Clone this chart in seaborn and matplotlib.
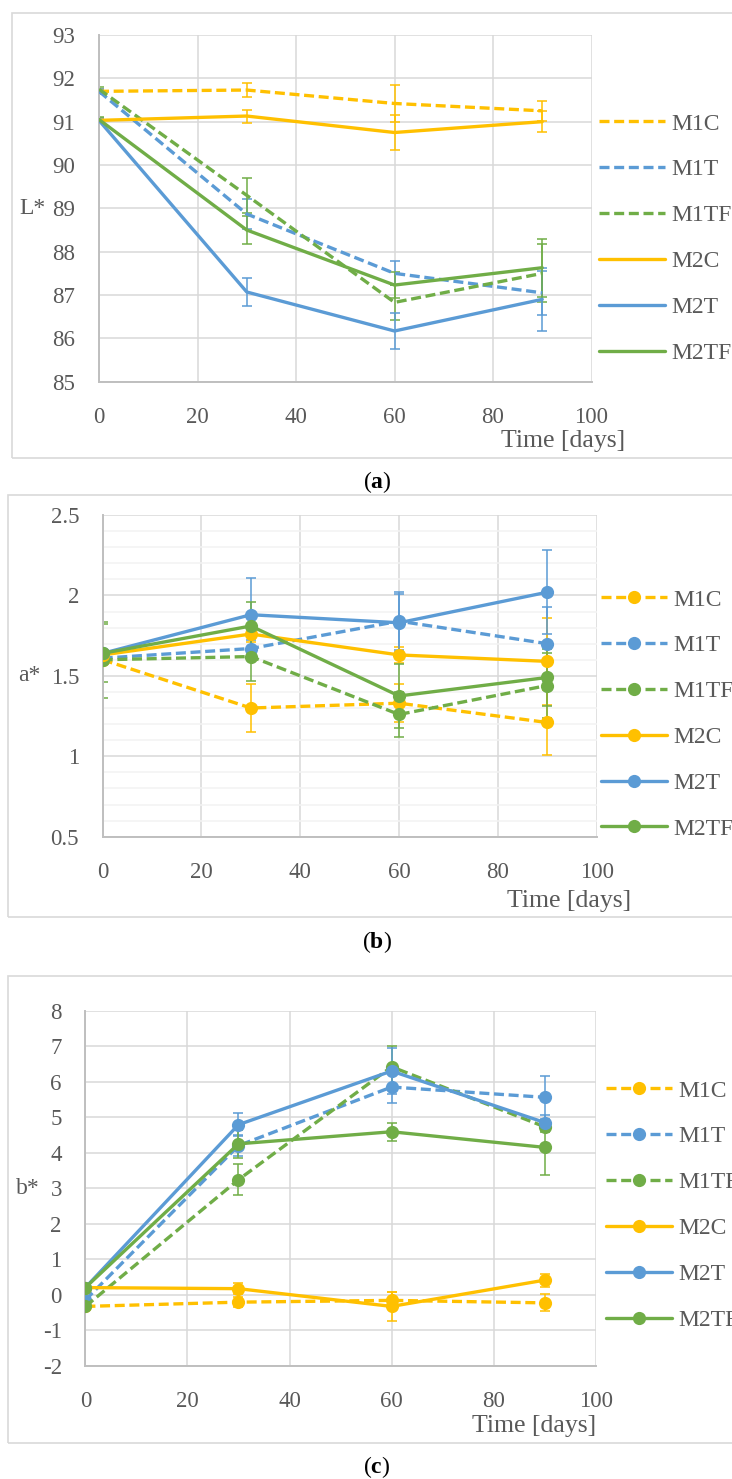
import matplotlib
matplotlib.use("Agg")
import matplotlib.pyplot as plt
from matplotlib.patches import Rectangle
from matplotlib.ticker import MultipleLocator, FuncFormatter
import pandas as pd
import seaborn as sns

# storage time points and sample codes
days = [0, 30, 60, 90]
samples = ["M1C", "M1T", "M1TF", "M2C", "M2T", "M2TF"]

# L* means and standard deviations (rows follow samples)
l_mean = [
	[91.70, 91.73, 91.42, 91.25],
	[91.70, 88.87, 87.50, 87.05],
	[91.75, 89.30, 86.83, 87.50],
	[91.03, 91.13, 90.75, 91.00],
	[91.03, 87.07, 86.17, 86.90],
	[91.05, 88.50, 87.23, 87.63],
]
l_sd = [
	[0.05, 0.17, 0.42, 0.23],
	[0.05, 0.34, 0.28, 0.50],
	[0.05, 0.41, 0.41, 0.67],
	[0.05, 0.15, 0.40, 0.24],
	[0.05, 0.33, 0.41, 0.72],
	[0.05, 0.33, 0.30, 0.67],
]

# a* means and standard deviations
a_mean = [
	[1.60, 1.30, 1.33, 1.21],
	[1.61, 1.67, 1.84, 1.70],
	[1.60, 1.62, 1.26, 1.44],
	[1.63, 1.76, 1.63, 1.59],
	[1.64, 1.88, 1.83, 2.02],
	[1.64, 1.81, 1.375, 1.49],
]
a_sd = [
	[0.02, 0.15, 0.12, 0.20],
	[0.02, 0.05, 0.18, 0.23],
	[0.235, 0.15, 0.14, 0.20],
	[0.02, 0.05, 0.05, 0.27],
	[0.02, 0.23, 0.18, 0.26],
	[0.18, 0.15, 0.20, 0.18],
]

# b* means and standard deviations
b_mean = [
	[-0.33, -0.21, -0.16, -0.23],
	[-0.15, 4.20, 5.85, 5.56],
	[-0.33, 3.24, 6.42, 4.73],
	[0.20, 0.17, -0.33, 0.41],
	[0.20, 4.79, 6.30, 4.85],
	[0.20, 4.25, 4.59, 4.15],
]
b_sd = [
	[0.02, 0.15, 0.25, 0.24],
	[0.02, 0.30, 0.45, 0.61],
	[0.02, 0.44, 0.58, 0.15],
	[0.02, 0.15, 0.41, 0.18],
	[0.02, 0.33, 0.64, 0.20],
	[0.02, 0.40, 0.26, 0.78],
]

yellow = "#FFC000"
blue = "#5B9BD5"
green = "#70AD47"
palette = {"M1C": yellow, "M1T": blue, "M1TF": green, "M2C": yellow, "M2T": blue, "M2TF": green}
dash = (3, 1.4)
dashes = {"M1C": dash, "M1T": dash, "M1TF": dash, "M2C": "", "M2T": "", "M2TF": ""}
text_col = "#595959"
grid_col = "#D9D9D9"

W, H = 732, 1479

sns.set_theme(style="white")
plt.rcParams["font.family"] = ["Liberation Serif", "DejaVu Serif"]
plt.rcParams["axes.unicode_minus"] = False
plt.rcParams["mathtext.fontset"] = "custom"
plt.rcParams["mathtext.rm"] = "Liberation Serif"
plt.rcParams["mathtext.bf"] = "Liberation Serif:bold"


def long_table(means):
	rows = []
	for s, vals in zip(samples, means):
		for d, v in zip(days, vals):
			rows.append({"day": d, "sample": s, "value": v})
	return pd.DataFrame(rows)


def px_rect(x0, y0, x1, y1):
	# pixel box (from top-left) -> figure fraction rect
	return [x0 / W, 1 - y1 / H, (x1 - x0) / W, (y1 - y0) / H]


def panel(fig, rect, means, sds, ylim, ystep, ylabel, ylabel_x, xlabel_xy,
		legend_xy, with_markers, minor=None):
	ax = fig.add_axes(rect)
	ax.set_facecolor("white")

	for s, vals, errs in zip(samples, means, sds):
		ax.errorbar(days, vals, yerr=errs, fmt="none", ecolor=palette[s],
					elinewidth=1.1, capsize=3.8, capthick=1.1, zorder=2)

	sns.lineplot(data=long_table(means), x="day", y="value", hue="sample",
				style="sample", hue_order=samples, style_order=samples,
				palette=palette, dashes=dashes,
				markers={s: "o" for s in samples} if with_markers else False,
				markersize=9.5, mew=0, linewidth=2.4, errorbar=None, sort=False,
				ax=ax, zorder=3)

	ax.set_xlim(0, 100)
	ax.set_ylim(*ylim)
	ax.xaxis.set_major_locator(MultipleLocator(20))
	ax.yaxis.set_major_locator(MultipleLocator(ystep))
	ax.yaxis.set_major_formatter(FuncFormatter(lambda v, _: f"{v:g}"))
	if minor:
		ax.yaxis.set_minor_locator(MultipleLocator(minor))
		ax.grid(True, which="minor", axis="y", color="#F2F2F2", lw=1.1)
	ax.grid(True, which="major", color=grid_col, lw=1.1)
	ax.set_axisbelow(True)

	for side in ["top", "right"]:
		ax.spines[side].set_visible(False)
	for side in ["left", "bottom"]:
		ax.spines[side].set_color("#BFBFBF")
		ax.spines[side].set_linewidth(1.4)

	ax.tick_params(axis="both", length=0, labelsize=16.5, labelcolor=text_col)
	ax.tick_params(axis="x", pad=18)
	ax.tick_params(axis="y", pad=17)

	ax.set_ylabel(ylabel, rotation=0, fontsize=17, color=text_col, ha="center", va="center")
	ax.yaxis.set_label_coords(ylabel_x, 0.5)
	ax.set_xlabel("Time [days]", fontsize=18.5, color=text_col, ha="right", va="center")
	ax.xaxis.set_label_coords(*xlabel_xy)

	sns.move_legend(ax, "upper left", bbox_to_anchor=(legend_xy[0] / W, 1 - legend_xy[1] / H),
					bbox_transform=fig.transFigure, frameon=False, title=None,
					fontsize=17, labelcolor=text_col, handlelength=2.8,
					handletextpad=0.25, labelspacing=1.03, borderpad=0, borderaxespad=0)
	return ax


fig = plt.figure(figsize=(W / 100, H / 100), dpi=100)

# light frames around each panel (cut off on the right like the original)
for x0, y0, y1 in [(11.7, 12.7, 458), (8, 495, 917), (8, 975.7, 1443)]:
	fig.patches.append(Rectangle((x0 / W, 1 - y1 / H), 1.1, (y1 - y0) / H,
								transform=fig.transFigure, fill=False,
								ec=grid_col, lw=1.2))

panel(fig, px_rect(99, 35, 591.5, 381.7), l_mean, l_sd, (85, 93), 1, "L*",
	-0.136, (1.068, -0.17), (599, 113), False)
panel(fig, px_rect(102.7, 515, 596.6, 836.7), a_mean, a_sd, (0.5, 2.5), 0.5, "a*",
	-0.149, (1.0697, -0.2), (601, 589), True, minor=0.1)
panel(fig, px_rect(85.4, 1010.7, 595.7, 1365.7), b_mean, b_sd, (-2, 8), 1, "b*",
	-0.1125, (1.0018, -0.17), (606, 1080), True)

for letter, y in [("a", 482), ("b", 942), ("c", 1467)]:
	fig.text(377 / W, 1 - y / H, "($\\mathbf{" + letter + "}$)", ha="center",
			va="center", fontsize=17, color="black")

fig.savefig("out.png", dpi=100)
